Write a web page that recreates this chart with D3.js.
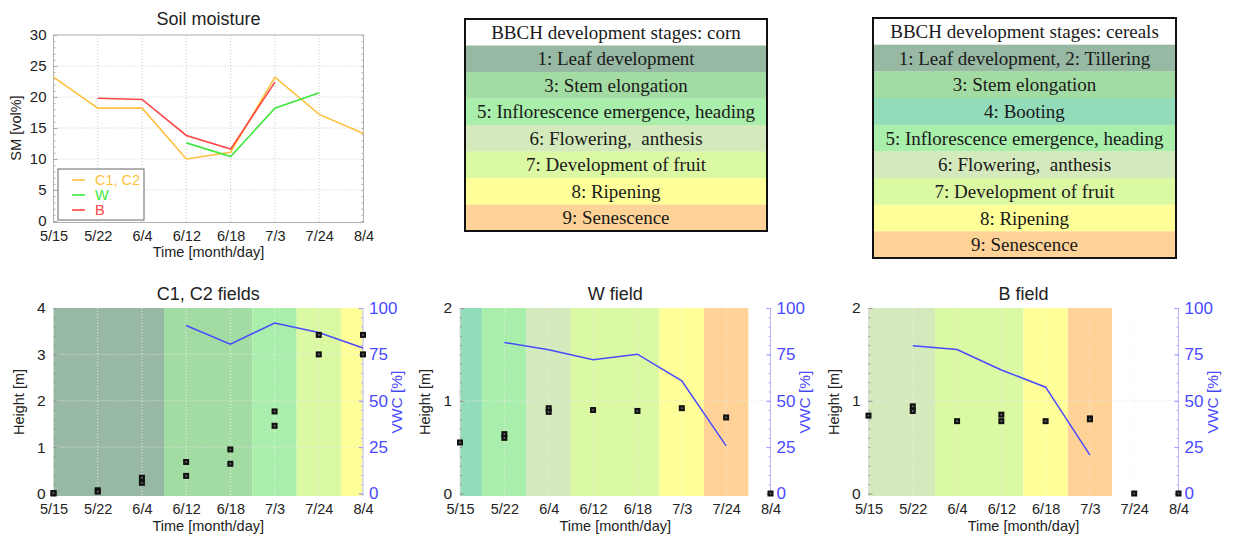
<!DOCTYPE html>
<html>
<head>
<meta charset="utf-8">
<script src="https://cdn.jsdelivr.net/npm/d3@7"></script>
<style>
  body { margin: 0; background: #fff; }
  svg { display: block; }
  text { font-family: "Liberation Sans", Arial, sans-serif; fill: #222; }
</style>
</head>
<body>
<svg id="chart" width="1234" height="537"></svg>
<script>
// sampling dates (equally spaced on the axis)
const dates = ["5/15", "5/22", "6/4", "6/12", "6/18", "7/3", "7/24", "8/4"];

// soil moisture [vol%]
const smC = [23.2, 18.2, 18.2, 10.0, 11.1, 23.2, 17.2, 14.1];
const smW = [null, null, null, 12.6, 10.4, 18.2, 20.7, null];
const smB = [null, 19.8, 19.6, 13.8, 11.6, 22.4, null, null];
const smTicks = [0, 5, 10, 15, 20, 25, 30];

// plant height [m], one or two samples per date
const heightC = [[0, 0.01], [0.07, 0.04], [0.34, 0.23], [0.68, 0.38], [0.95, 0.64], [1.77, 1.46], [3.42, 3.0], [3.42, 3.0]];
const heightW = [[0.55], [0.64, 0.6], [0.92, 0.88], [0.9], [0.89], [0.92], [0.82], [0]];
const heightB = [[0.84], [0.94, 0.89], [0.78], [0.85, 0.78], [0.78], [0.81, 0.8], [0], [0]];

// vegetation water content [%]
const vwcC = [null, null, null, 90.6, 80.5, 91.9, 86.8, 78.4];
const vwcW = [null, 81.4, 77.5, 72.1, 75.1, 60.7, 25.7, null];
const vwcB = [null, 79.6, 77.6, 66.6, 57.3, 20.7, null, null];
const vwcTicks = [0, 25, 50, 75, 100];

// BBCH stages: [from date index, to date index, stage]
const bandsC = [[0, 2.5, 1], [2.5, 4.5, 3], [4.5, 5.5, 5], [5.5, 6.5, 7], [6.5, 7, 8]];
const bandsW = [[0, 0.5, 4], [0.5, 1.5, 5], [1.5, 2.5, 6], [2.5, 4.5, 7], [4.5, 5.5, 8], [5.5, 6.5, 9]];
const bandsB = [[0, 1.5, 6], [1.5, 3.5, 7], [3.5, 4.5, 8], [4.5, 5.5, 9]];

const cornStages = [1, 3, 5, 6, 7, 8, 9];
const cornLabels = ["1: Leaf development", "3: Stem elongation", "5: Inflorescence emergence, heading",
  "6: Flowering,  anthesis", "7: Development of fruit", "8: Ripening", "9: Senescence"];
const cerealStages = [1, 3, 4, 5, 6, 7, 8, 9];
const cerealLabels = ["1: Leaf development, 2: Tillering", "3: Stem elongation", "4: Booting",
  "5: Inflorescence emergence, heading", "6: Flowering,  anthesis", "7: Development of fruit",
  "8: Ripening", "9: Senescence"];

// styles
const STAGE_COLOR = { 1: "#97b8a3", 3: "#a3dca3", 4: "#93dcba", 5: "#a9eeaa", 6: "#d4e9bc", 7: "#dbf8a3", 8: "#ffff99", 9: "#ffd398" };
const COL_C = "#ffc13d", COL_W = "#3ee63e", COL_B = "#ff4545", COL_VWC = "#4a4aff";

const svg = d3.select("#chart");

function minorTicks (max, step) {
  return d3.range(0, max + step / 2, step);
}

// ---------- soil moisture chart ----------
function drawSoil () {
  const x0 = 53.5, x1 = 363.5, top = 35, bottom = 221;
  const g = svg.append("g");
  const x = d3.scaleLinear().domain([0, 7]).range([x0, x1]);
  const y = d3.scaleLinear().domain([0, 30]).range([bottom, top]);

  // grid
  g.append("g").selectAll("line").data(d3.range(1, 7)).join("line")
    .attr("x1", d => x(d)).attr("x2", d => x(d)).attr("y1", top).attr("y2", bottom + 1.5)
    .attr("stroke", "#c8c8c8").attr("stroke-dasharray", "1,2");
  g.append("g").selectAll("line").data(smTicks.slice(1, -1)).join("line")
    .attr("x1", x0).attr("x2", x1).attr("y1", d => y(d)).attr("y2", d => y(d))
    .attr("stroke", "#c8c8c8").attr("stroke-dasharray", "1,2");

  // box
  g.append("rect").attr("x", x0).attr("y", top).attr("width", x1 - x0).attr("height", bottom + 1.5 - top)
    .attr("fill", "none").attr("stroke", "#b0b0b0");

  // axes
  const yAxis = g.append("g").attr("transform", `translate(${x0},0)`)
    .call(d3.axisLeft(y).tickValues(smTicks).tickSize(-4).tickPadding(7));
  g.append("g").attr("transform", `translate(${x0},0)`)
    .call(d3.axisLeft(y).tickValues(minorTicks(30, 1)).tickSize(-2).tickFormat(""));
  g.append("g").attr("transform", `translate(${x1},0)`)
    .call(d3.axisRight(y).tickValues(minorTicks(30, 1)).tickSize(-2).tickFormat(""));
  const xAxis = g.append("g").attr("transform", `translate(0,${bottom + 1.5})`)
    .call(d3.axisBottom(x).tickValues(d3.range(8)).tickFormat(i => dates[i]).tickSize(0).tickPadding(8));
  yAxis.selectAll("text").attr("font-size", 15).attr("fill", "#222");
  xAxis.selectAll("text").attr("font-size", 14.5).attr("fill", "#222");
  g.selectAll(".domain").remove();
  g.selectAll(".tick line").attr("stroke", "#aaa");

  // lines
  const line = d3.line().defined(d => d != null).x((d, i) => x(i)).y(d => y(d));
  [[smC, COL_C], [smW, COL_W], [smB, COL_B]].forEach(([s, c]) => {
    g.append("path").datum(s).attr("d", line).attr("fill", "none").attr("stroke", c).attr("stroke-width", 1.6);
  });

  // titles
  g.append("text").attr("x", (x0 + x1) / 2).attr("y", 25).attr("text-anchor", "middle").attr("font-size", 18).text("Soil moisture");
  g.append("text").attr("x", (x0 + x1) / 2).attr("y", 257).attr("text-anchor", "middle").attr("font-size", 14.5).text("Time [month/day]");
  g.append("text").attr("transform", `translate(21,${(top + bottom) / 2}) rotate(-90)`).attr("text-anchor", "middle")
    .attr("font-size", 14.5).text("SM [vol%]");

  // legend
  const lg = g.append("g").attr("transform", "translate(58,169)");
  lg.append("rect").attr("width", 86).attr("height", 51).attr("fill", "#fff").attr("stroke", "#666");
  const items = [["C1, C2", COL_C], ["W", COL_W], ["B", COL_B]];
  items.forEach(([name, c], i) => {
    const yy = 11 + i * 15;
    lg.append("line").attr("x1", 14).attr("x2", 27).attr("y1", yy).attr("y2", yy).attr("stroke", c).attr("stroke-width", 1.6);
    lg.append("text").attr("x", 37).attr("y", yy + 5).attr("font-size", 14.5).style("fill", c).text(name);
  });
}

// ---------- field panels ----------
function drawField (opts) {
  const { x0, x1, title, hMax, bands, heights, vwc } = opts;
  const top = 308, zero = 493.5, bottom = 496;
  const g = svg.append("g");
  const x = d3.scaleLinear().domain([0, 7]).range([x0, x1]);
  const yH = d3.scaleLinear().domain([0, hMax]).range([zero, top]);
  const yV = d3.scaleLinear().domain([0, 100]).range([zero, top]);

  // phenology bands
  g.append("g").selectAll("rect").data(bands).join("rect")
    .attr("x", d => x(d[0])).attr("width", d => x(d[1]) - x(d[0]))
    .attr("y", top).attr("height", bottom - top)
    .attr("fill", d => STAGE_COLOR[d[2]]);

  // grid
  g.append("g").selectAll("line").data(d3.range(1, 7)).join("line")
    .attr("x1", d => x(d)).attr("x2", d => x(d)).attr("y1", top).attr("y2", bottom)
    .attr("stroke", "#f2f2f2").attr("stroke-dasharray", "1,2").attr("opacity", 0.9);
  g.append("g").selectAll("line").data(d3.range(1, hMax)).join("line")
    .attr("x1", x0).attr("x2", x1).attr("y1", d => yH(d)).attr("y2", d => yH(d))
    .attr("stroke", "#e6e6e6").attr("stroke-dasharray", "1,2");

  // left border and axes
  g.append("line").attr("x1", x0).attr("x2", x0).attr("y1", top).attr("y2", bottom).attr("stroke", "#ddd");
  g.append("line").attr("x1", x1).attr("x2", x1).attr("y1", top).attr("y2", bottom).attr("stroke", "#b8b8ff");

  const left = g.append("g").attr("transform", `translate(${x0},0)`)
    .call(d3.axisLeft(yH).tickValues(d3.range(0, hMax + 1)).tickFormat(d3.format("d")).tickSize(-4).tickPadding(8));
  g.append("g").attr("transform", `translate(${x0},0)`)
    .call(d3.axisLeft(yH).tickValues(minorTicks(hMax, hMax / 20)).tickSize(-2).tickFormat(""));
  const right = g.append("g").attr("transform", `translate(${x1},0)`)
    .call(d3.axisRight(yV).tickValues(vwcTicks).tickSize(-4).tickPadding(6));
  g.append("g").attr("class", "vminor").attr("transform", `translate(${x1},0)`)
    .call(d3.axisRight(yV).tickValues(minorTicks(100, 5)).tickSize(-2).tickFormat(""));
  const bottomAx = g.append("g").attr("transform", `translate(0,${bottom})`)
    .call(d3.axisBottom(x).tickValues(d3.range(8)).tickFormat(i => dates[i]).tickSize(0).tickPadding(8));
  g.selectAll(".domain").remove();
  g.selectAll(".tick line").attr("stroke", "#999");
  right.selectAll(".tick line").attr("stroke", "#8888ff");
  g.selectAll(".vminor .tick line").attr("stroke", "#aaaaff");
  left.selectAll("text").attr("font-size", 15.5).attr("fill", "#222");
  bottomAx.selectAll("text").attr("font-size", 14.5).attr("fill", "#222");
  right.selectAll("text").attr("font-size", 17).style("fill", COL_VWC);

  // VWC line
  const line = d3.line().defined(d => d != null).x((d, i) => x(i)).y(d => yV(d));
  g.append("path").datum(vwc).attr("d", line).attr("fill", "none").attr("stroke", COL_VWC).attr("stroke-width", 1.5);

  // height samples
  const pts = heights.flatMap((vals, i) => vals.map(v => [i, v]));
  const mk = g.append("g").selectAll("g").data(pts).join("g")
    .attr("transform", d => `translate(${x(d[0])},${yH(d[1])})`);
  mk.append("rect").attr("x", -3).attr("y", -3).attr("width", 6).attr("height", 6).attr("fill", "#111");
  mk.append("rect").attr("x", -0.8).attr("y", -0.8).attr("width", 1.6).attr("height", 1.6).attr("fill", "#777");

  // titles
  const cx = (x0 + x1) / 2;
  g.append("text").attr("x", cx).attr("y", 300).attr("text-anchor", "middle").attr("font-size", 18).text(title);
  g.append("text").attr("x", cx).attr("y", 531).attr("text-anchor", "middle").attr("font-size", 14.5).text("Time [month/day]");
  g.append("text").attr("transform", `translate(${x0 - 30},${(top + bottom) / 2}) rotate(-90)`).attr("text-anchor", "middle")
    .attr("font-size", 14.5).text("Height [m]");
  g.append("text").attr("transform", `translate(${x1 + 39},${(top + bottom) / 2}) rotate(-90)`).attr("text-anchor", "middle")
    .attr("font-size", 15.5).style("fill", COL_VWC).text("VWC [%]");
}

// ---------- BBCH legend tables ----------
function drawStageTable (opts) {
  const { x0, x1, top, bottom, header, stages, labels } = opts;
  const rows = [null].concat(stages);
  const rowH = (bottom - top) / rows.length;
  const g = svg.append("g");
  const y = d3.scaleBand().domain(d3.range(rows.length)).range([top, bottom]);
  g.selectAll("rect.row").data(rows).join("rect").attr("class", "row")
    .attr("x", x0).attr("width", x1 - x0).attr("y", (d, i) => y(i)).attr("height", rowH + 0.3)
    .attr("fill", d => d == null ? "#fff" : STAGE_COLOR[d]);
  g.selectAll("text").data([header].concat(labels)).join("text")
    .attr("x", (x0 + x1) / 2).attr("y", (d, i) => y(i) + rowH / 2 + 6.5)
    .attr("text-anchor", "middle").attr("font-size", 19)
    .style("font-family", "'Liberation Serif', 'Times New Roman', serif").style("fill", "#1a1a1a")
    .style("white-space", "pre")
    .text(d => d);
  g.append("rect").attr("x", x0).attr("y", top).attr("width", x1 - x0).attr("height", bottom - top)
    .attr("fill", "none").attr("stroke", "#111").attr("stroke-width", 2);
}

drawSoil();
drawField({ x0: 53.5, x1: 363, title: "C1, C2 fields", hMax: 4, bands: bandsC, heights: heightC, vwc: vwcC });
drawField({ x0: 460, x1: 770.5, title: "W field", hMax: 2, bands: bandsW, heights: heightW, vwc: vwcW });
drawField({ x0: 868.5, x1: 1178.5, title: "B field", hMax: 2, bands: bandsB, heights: heightB, vwc: vwcB });
drawStageTable({ x0: 465, x1: 767, top: 19, bottom: 231, header: "BBCH development stages: corn", stages: cornStages, labels: cornLabels });
drawStageTable({ x0: 873, x1: 1176, top: 18, bottom: 258, header: "BBCH development stages: cereals", stages: cerealStages, labels: cerealLabels });
</script>
</body>
</html>
